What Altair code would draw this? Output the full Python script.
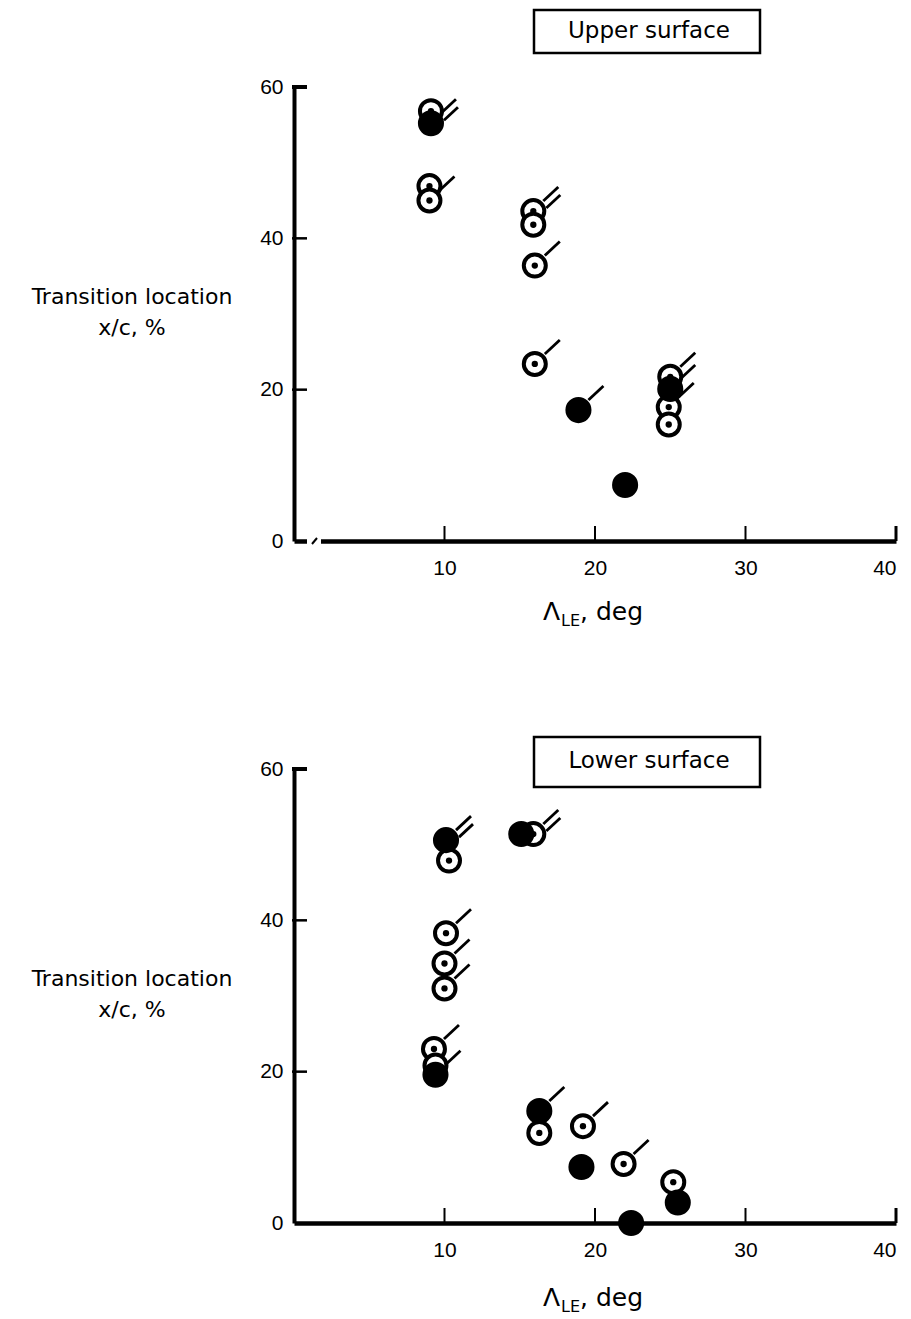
import altair as alt
import pandas as pd

# ---------------- data ----------------
# Upper surface
U_X = [9.1, 9.1, 9.0, 9.0, 15.9, 15.9, 16.0, 16.0, 18.9, 22.0, 25.0, 25.0, 24.9, 24.9]
U_Y = [56.8, 55.2, 46.9, 45.0, 43.6, 41.8, 36.4, 23.4, 17.3, 7.4, 21.7, 20.1, 17.7, 15.4]
U_KIND = ["open", "filled", "open", "open", "open", "open", "open", "open",
          "filled", "filled", "open", "filled", "open", "open"]
U_FLAGS = [0, 2, 0, 1, 2, 0, 1, 1, 1, 0, 1, 1, 1, 0]

# Lower surface
L_X = [10.1, 10.3, 15.1, 15.9, 10.1, 10.0, 10.0, 9.3, 9.4, 9.4,
       16.3, 16.3, 19.2, 19.1, 21.9, 25.2, 25.5, 22.4]
L_Y = [50.6, 47.9, 51.4, 51.4, 38.3, 34.3, 31.0, 23.0, 20.8, 19.6,
       14.8, 11.9, 12.8, 7.4, 7.8, 5.4, 2.7, 0.0]
L_KIND = ["filled", "open", "filled", "open", "open", "open", "open", "open", "open", "filled",
          "filled", "open", "open", "filled", "open", "open", "filled", "filled"]
L_FLAGS = [2, 0, 0, 2, 1, 1, 1, 1, 0, 1, 1, 0, 1, 0, 1, 0, 0, 0]

X_LABELS = [10, 20, 30, 40]
Y_LABELS = [0, 20, 40, 60]
X_TICKS = [10, 20, 30, 40]
Y_TICKS = [20, 40, 60]
X_DOMAIN = [0, 40]
Y_DOMAIN = [0, 60]

Y_TITLE = ["Transition location", "x/c, %"]
PANEL_TITLES = ["Upper surface", "Lower surface"]

W, H = 602, 454
TXT = "DejaVu Sans"
NUM = "Liberation Sans"


def panel(xs, ys, kinds, flags, title, box_top, box_bottom, box_text_y, xtitle_base, axis_break):
    df = pd.DataFrame({"x": xs, "y": ys, "kind": kinds, "flags": flags})
    xsc = alt.Scale(domain=X_DOMAIN, nice=False, zero=False)
    ysc = alt.Scale(domain=Y_DOMAIN, nice=False, zero=False)
    xaxis = alt.Axis(values=X_LABELS, title=None, grid=False, ticks=False, tickSize=0,
                     labelFont=NUM, labelFontSize=21, labelColor="black", labelPadding=16,
                     domainColor="black", domainWidth=4.5)
    yaxis = alt.Axis(values=Y_LABELS, title=None, grid=False, ticks=False, tickSize=0,
                     labelFont=NUM, labelFontSize=21, labelColor="black", labelPadding=11,
                     domainColor="black", domainWidth=4)
    base = alt.Chart(df)
    enc = dict(x=alt.X("x:Q", scale=xsc, axis=xaxis), y=alt.Y("y:Q", scale=ysc, axis=yaxis))

    opens = base.transform_filter(alt.datum.kind == "open").mark_circle(
        size=484, fill="white", stroke="black", strokeWidth=4, opacity=1
    ).encode(**enc)
    dots = base.transform_filter(alt.datum.kind == "open").mark_circle(
        size=40, color="black", opacity=1
    ).encode(**enc)
    filled = base.transform_filter(alt.datum.kind == "filled").mark_circle(
        size=680, color="black", opacity=1
    ).encode(**enc)
    flag1 = base.transform_filter(alt.datum.flags >= 1).mark_rule(
        color="black", strokeWidth=2.8, xOffset=10, yOffset=-10, x2Offset=25, y2Offset=-24
    ).encode(x2=alt.X2("x"), y2=alt.Y2("y"), **enc)
    flag2 = base.transform_filter(alt.datum.flags >= 2).mark_rule(
        color="black", strokeWidth=2.8, xOffset=13, yOffset=-3, x2Offset=27, y2Offset=-16
    ).encode(x2=alt.X2("x"), y2=alt.Y2("y"), **enc)

    xt = alt.Chart(pd.DataFrame({"x": X_TICKS})).mark_rule(color="black").encode(
        x=alt.X("x:Q", scale=xsc, axis=xaxis), y=alt.value(H), y2=alt.value(H - 15),
        strokeWidth=alt.condition(alt.datum.x == 40, alt.value(3), alt.value(2)))
    yt = alt.Chart(pd.DataFrame({"y": Y_TICKS})).mark_rule(color="black").encode(
        y=alt.Y("y:Q", scale=ysc, axis=yaxis), x=alt.value(-2), x2=alt.value(13),
        strokeWidth=alt.condition(alt.datum.y == 60, alt.value(4), alt.value(2.5)))

    one = alt.Chart(pd.DataFrame({"a": [0]}))
    anchor = one.mark_rule(color="white", strokeWidth=1).encode(
        x=alt.value(-285), x2=alt.value(-284), y=alt.value(200), y2=alt.value(201))
    yt1 = one.mark_text(font=TXT, fontSize=22, align="center", baseline="middle", color="black").encode(
        x=alt.value(-162), y=alt.value(210), text=alt.value(Y_TITLE[0]))
    yt2 = one.mark_text(font=TXT, fontSize=22, align="center", baseline="middle", color="black").encode(
        x=alt.value(-162), y=alt.value(241), text=alt.value(Y_TITLE[1]))
    xl1 = one.mark_text(font=TXT, fontSize=25, align="left", baseline="alphabetic", color="black").encode(
        x=alt.value(249), y=alt.value(xtitle_base), text=alt.value("Λ"))
    xl2 = one.mark_text(font=TXT, fontSize=16, align="left", baseline="alphabetic", color="black").encode(
        x=alt.value(267), y=alt.value(xtitle_base + 6), text=alt.value("LE"))
    xl3 = one.mark_text(font=TXT, fontSize=25, align="left", baseline="alphabetic", color="black").encode(
        x=alt.value(286), y=alt.value(xtitle_base), text=alt.value(", deg"))
    box = one.mark_rect(fill="white", stroke="black", strokeWidth=2.5).encode(
        x=alt.value(240), x2=alt.value(466), y=alt.value(box_top), y2=alt.value(box_bottom))
    box_t = one.mark_text(font=TXT, fontSize=23, align="center", baseline="middle", color="black").encode(
        x=alt.value(355), y=alt.value(box_text_y), text=alt.value(title))

    layers = [opens, dots, filled, flag1, flag2, xt, yt, anchor, yt1, yt2, xl1, xl2, xl3, box, box_t]
    if axis_break:
        gap = one.mark_rect(fill="white").encode(
            x=alt.value(13), x2=alt.value(27), y=alt.value(H - 5), y2=alt.value(H + 5))
        slash = one.mark_rule(color="black", strokeWidth=2).encode(
            x=alt.value(18), x2=alt.value(23), y=alt.value(H + 3), y2=alt.value(H - 3))
        layers += [gap, slash]
    return alt.layer(*layers).properties(width=W, height=H)


upper = panel(U_X, U_Y, U_KIND, U_FLAGS, PANEL_TITLES[0], -77, -34, -56, 533, True)
lower = panel(L_X, L_Y, L_KIND, L_FLAGS, PANEL_TITLES[1], -32, 18, -8, 537, False)

chart = alt.vconcat(upper, lower, spacing=228, bounds="flush").properties(
    padding=0
).configure_view(stroke=None)

chart.save("out.html", embed_options={"renderer": "svg", "actions": False})
